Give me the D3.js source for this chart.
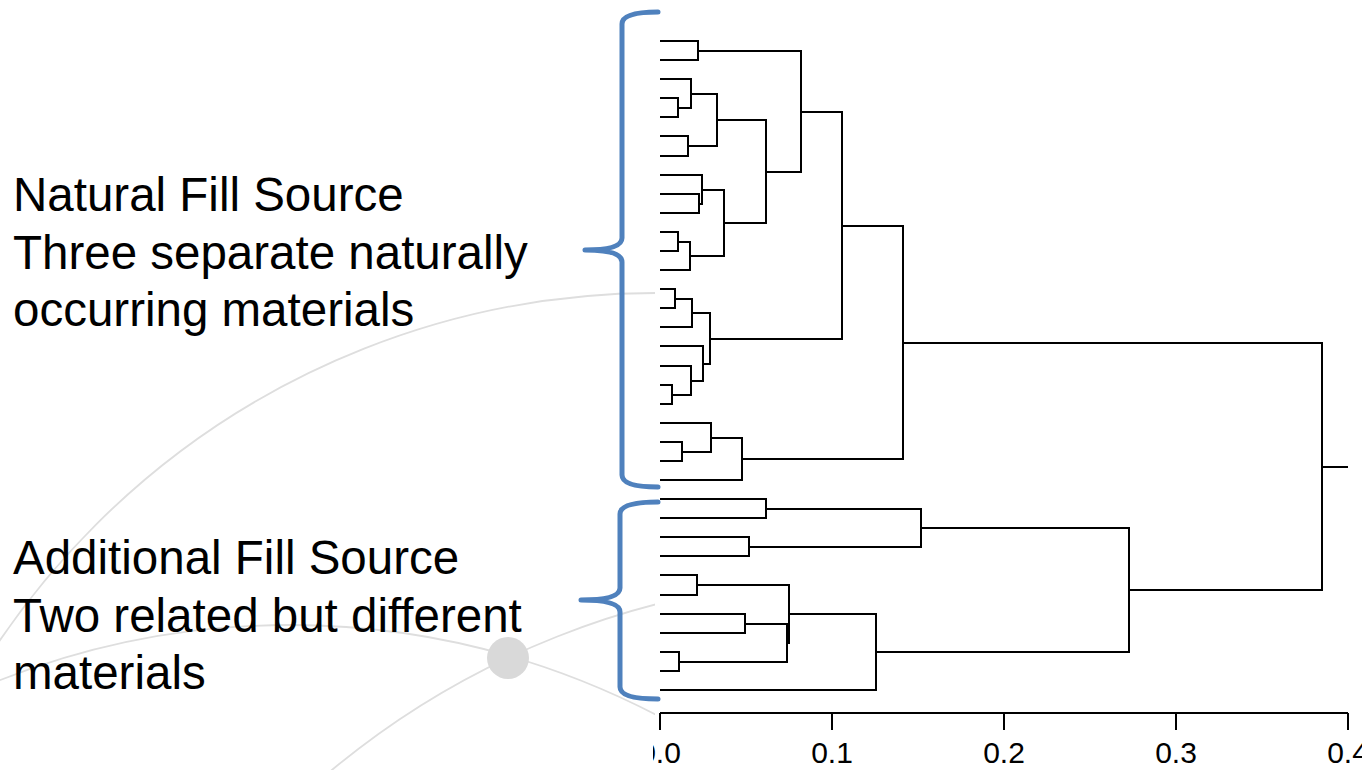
<!DOCTYPE html>
<html>
<head>
<meta charset="utf-8">
<script src="https://cdn.jsdelivr.net/npm/d3@7"></script>
<style>
  body { margin: 0; background: #fff; }
  svg { display: block; }
  .note { font-family: "Liberation Sans", Arial, sans-serif; font-size: 47.5px; fill: #000; }
  .axis text { font-family: "Liberation Sans Narrow", "Arial Narrow", "Liberation Sans", Arial, sans-serif; font-size: 30px; fill: #000; }
</style>
</head>
<body>
<div id="vis"></div>
<script>
const width = 1362;
const height = 770;

// leaves are numbered 1..35 from top to bottom, as drawn
const leafCount = 35;

// hclust style merge table: negative = leaf, positive = earlier merge step
const merges = [
  [-19, -20], [-14, -15], [-4, -5], [-11, -12], [-33, -34],
  [-22, -23], [-6, -7], [4, -13], [-18, 1], [-3, 3],
  [2, -16], [-29, -30], [-1, -2], [-9, -10], [-8, 14],
  [-17, 9], [11, 16], [-21, 6], [10, 7], [15, 8],
  [18, -24], [-31, -32], [-27, -28], [19, 20], [-25, -26],
  [22, 5], [12, 26], [13, 24], [28, 17], [27, -35],
  [29, 21], [25, 23], [32, 30], [31, 33]
];
const heights = [
  0.0068, 0.0087, 0.0103, 0.0106, 0.0112,
  0.0126, 0.0160, 0.0174, 0.0178, 0.0180,
  0.0188, 0.0217, 0.0220, 0.0228, 0.0245,
  0.0248, 0.0290, 0.0294, 0.0330, 0.0370,
  0.0478, 0.0497, 0.0517, 0.0615, 0.0615,
  0.0739, 0.0750, 0.0820, 0.1060, 0.1254,
  0.1410, 0.1520, 0.2728, 0.3850
];

const axisTicks = [0.0, 0.1, 0.2, 0.3, 0.4];
const naturalLabel = ["Natural Fill Source", "Three separate naturally", "occurring materials"];
const additionalLabel = ["Additional Fill Source", "Two related but different", "materials"];

window.onload = function () {
  svg = d3.select("#vis").append("svg")
    .attr("width", width)
    .attr("height", height);

  drawBackdrop();
  drawDendrogram();
  drawNotes();
};

function drawBackdrop() {
  // faint slide decoration behind the text, hidden by the chart picture
  svg.append("clipPath").attr("id", "slideClip")
    .append("rect").attr("x", 0).attr("y", 0).attr("width", 657).attr("height", height);

  let deco = svg.append("g").attr("clip-path", "url(#slideClip)");
  let arcs = [
    { cx: 656, cy: 1086, r: 793 },
    { cx: 290, cy: 1415, r: 790 },
    { cx: 864, cy: 1411, r: 833 }
  ];
  deco.selectAll("circle.arc").data(arcs).enter().append("circle")
    .attr("class", "arc")
    .attr("cx", d => d.cx).attr("cy", d => d.cy).attr("r", d => d.r)
    .attr("fill", "none")
    .attr("stroke", "#dedede")
    .attr("stroke-width", 1.8);
  deco.append("circle")
    .attr("cx", 508).attr("cy", 658).attr("r", 21)
    .attr("fill", "#d9d9d9");
}

function drawDendrogram() {
  // build nested tree from the merge table
  let steps = [];
  function nodeOf(id) {
    return id < 0 ? { leaf: -id, height: 0 } : steps[id - 1];
  }
  merges.forEach(function (m, i) {
    steps.push({ children: [nodeOf(m[0]), nodeOf(m[1])], height: heights[i] });
  });
  let root = d3.hierarchy(steps[steps.length - 1]);

  let x = d3.scaleLinear().domain([0, 0.4]).range([660, 1348]);
  let y = d3.scalePoint().domain(d3.range(1, leafCount + 1)).range([41, 690]);

  root.eachAfter(function (n) {
    n.px = Math.round(x(n.data.height));
    n.py = Math.round(n.children ? d3.mean(n.children, c => c.py) : y(n.data.leaf));
  });

  svg.append("clipPath").attr("id", "chartClip")
    .append("rect").attr("x", 653).attr("y", 0).attr("width", width - 653).attr("height", height);

  let chart = svg.append("g").attr("clip-path", "url(#chartClip)");
  chart.append("rect")
    .attr("x", 655).attr("y", 0).attr("width", width - 655).attr("height", height)
    .attr("fill", "#fff");

  let inner = root.descendants().filter(n => n.children);
  chart.selectAll("path.link").data(inner).enter().append("path")
    .attr("class", "link")
    .attr("d", function (n) {
      let a = n.children[0], b = n.children[1];
      return "M" + a.px + "," + a.py + "H" + n.px + "V" + b.py + "H" + b.px;
    })
    .attr("fill", "none")
    .attr("stroke", "#000")
    .attr("stroke-width", 2);

  // short stub right of the root
  chart.append("path")
    .attr("d", "M" + root.px + "," + root.py + "H" + x.range()[1])
    .attr("stroke", "#000")
    .attr("stroke-width", 2);

  let axis = chart.append("g")
    .attr("class", "axis")
    .attr("transform", "translate(0,713)")
    .call(d3.axisBottom(x).tickValues(axisTicks).tickFormat(d3.format(".1f"))
      .tickSize(17).tickPadding(12).tickSizeOuter(0).offset(0));
  axis.select(".domain").attr("stroke", "#000").attr("stroke-width", 2);
  axis.selectAll(".tick line").attr("stroke", "#000").attr("stroke-width", 2);
}

function drawNotes() {
  let blocks = [
    { lines: naturalLabel, y0: 211 },
    { lines: additionalLabel, y0: 574 }
  ];
  blocks.forEach(function (b) {
    svg.append("g").selectAll("text").data(b.lines).enter().append("text")
      .attr("class", "note")
      .attr("x", 13)
      .attr("y", (d, i) => b.y0 + i * 57.5)
      .text(d => d);
  });

  // curly braces marking the two groups
  let braces = [
    { top: 12, bottom: 487, mid: 250, spine: 622, tip: 658, point: 585 },
    { top: 502, bottom: 699, mid: 600, spine: 620, tip: 658, point: 581 }
  ];
  let r = 12;
  svg.selectAll("path.brace").data(braces).enter().append("path")
    .attr("class", "brace")
    .attr("d", function (b) {
      return "M" + b.tip + "," + b.top +
        "Q" + b.spine + "," + b.top + " " + b.spine + "," + (b.top + r) +
        "L" + b.spine + "," + (b.mid - r) +
        "Q" + b.spine + "," + b.mid + " " + b.point + "," + b.mid +
        "Q" + b.spine + "," + b.mid + " " + b.spine + "," + (b.mid + r) +
        "L" + b.spine + "," + (b.bottom - r) +
        "Q" + b.spine + "," + b.bottom + " " + b.tip + "," + b.bottom;
    })
    .attr("fill", "none")
    .attr("stroke", "#4f81bd")
    .attr("stroke-width", 5)
    .attr("stroke-linecap", "round")
    .attr("stroke-linejoin", "round");
}
</script>
</body>
</html>
